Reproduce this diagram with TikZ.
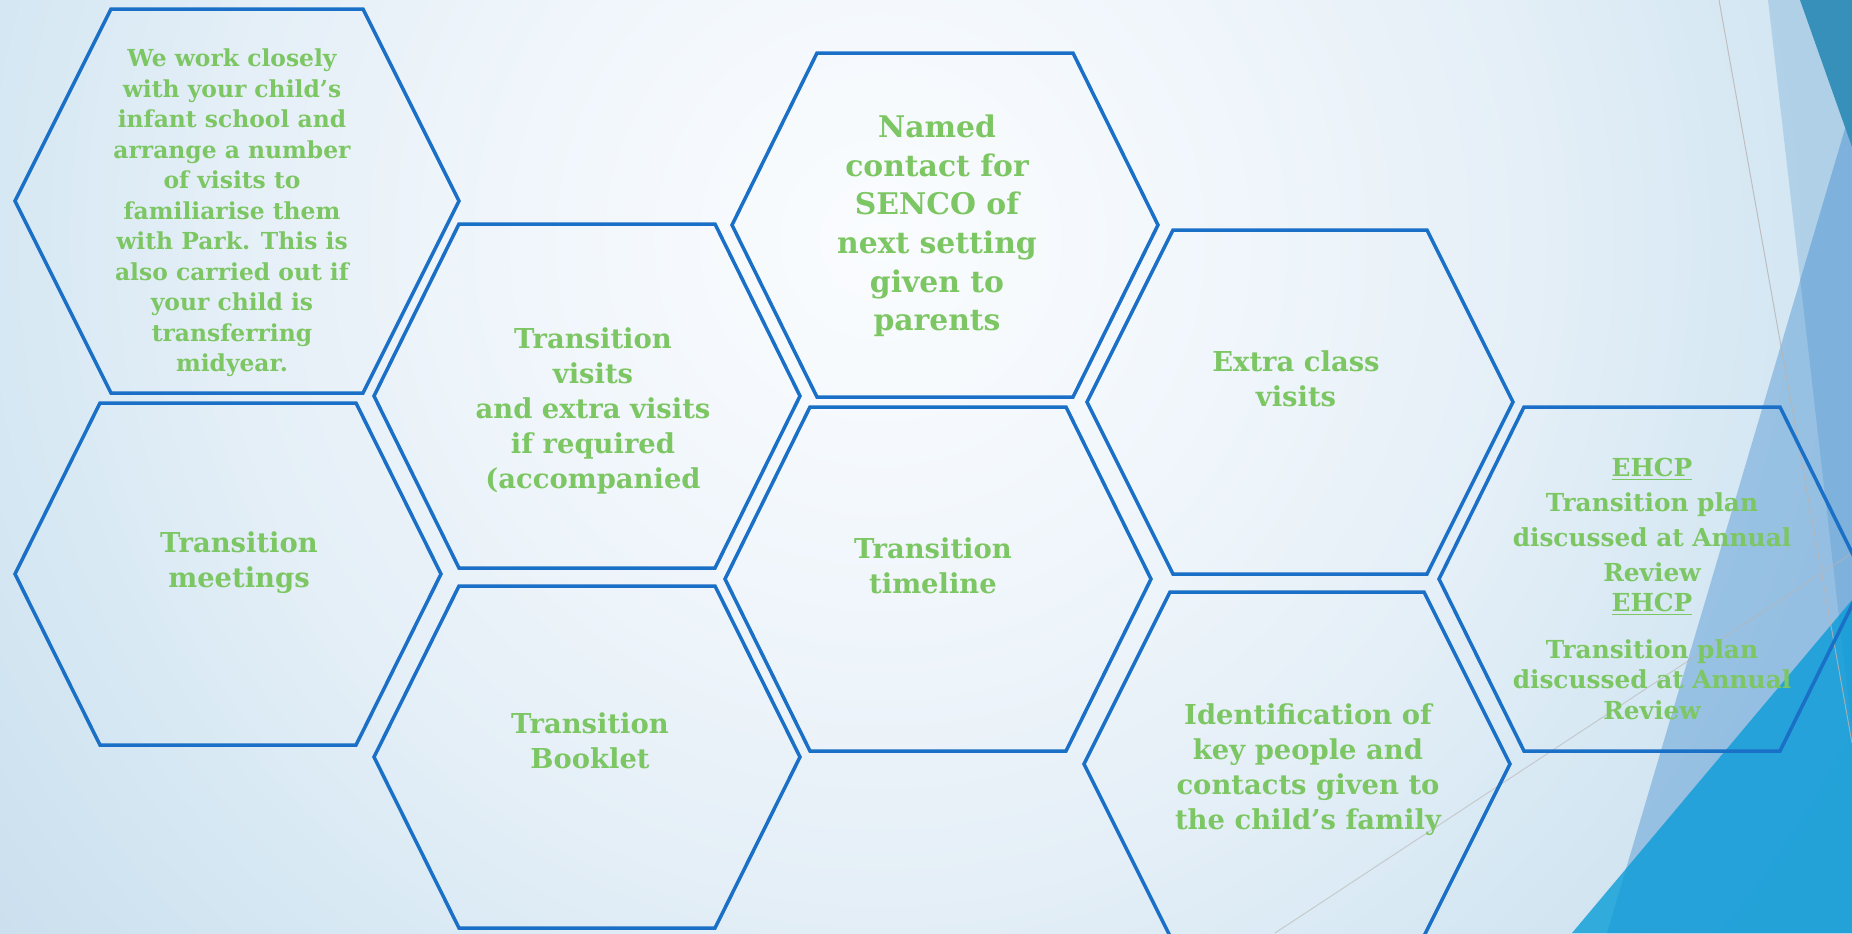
\documentclass[tikz,border=0pt]{standalone}
\usepackage{fontspec}
\setmainfont{DejaVu Serif}
\definecolor{hexblue}{HTML}{1A6FC6}
\definecolor{txtgreen}{HTML}{7CC663}
\definecolor{bgc0}{HTML}{FAFCFE}
\definecolor{bgc1}{HTML}{F5F9FD}
\definecolor{bgc2}{HTML}{EDF4FA}
\definecolor{bgc3}{HTML}{E5EFF7}
\definecolor{bgc4}{HTML}{D6E8F3}
\definecolor{bgc5}{HTML}{CBDFEE}
\definecolor{bandc}{HTML}{A2C8E5}
\definecolor{tonec}{HTML}{0D6CC2}
\definecolor{tealc}{HTML}{3690B9}
\definecolor{brightc}{HTML}{059BD7}
\definecolor{thinc}{HTML}{B8B4B4}
\pgfdeclareradialshading{bgshade}{\pgfpoint{0bp}{0bp}}{color(0bp)=(bgc0); color(3.6bp)=(bgc1); color(8bp)=(bgc2); color(11.6bp)=(bgc3); color(15.7bp)=(bgc4); color(20bp)=(bgc5); color(25bp)=(bgc5); color(50bp)=(bgc5)}
\newcommand\hexshape[5]{%
  \draw[hexline] (#1-#3,#2) -- (#1-#4,#2-#5) -- (#1+#4,#2-#5) -- (#1+#3,#2)
    -- (#1+#4,#2+#5) -- (#1-#4,#2+#5) -- cycle;}
\tikzset{
  hexline/.style={draw=hexblue, line width=1.75pt, line join=miter},
  hextext/.style={text=txtgreen, align=center, inner sep=0pt,
    font=\bfseries\fontsize{13.7pt}{17.5pt}\selectfont},
  smalltext/.style={hextext, font=\bfseries\fontsize{11.7pt}{15.25pt}\selectfont},
  bigtext/.style={hextext, font=\bfseries\fontsize{14.9pt}{19.35pt}\selectfont},
  ehcptext/.style={hextext, font=\bfseries\fontsize{12.4pt}{17.5pt}\selectfont},
  thinline/.style={draw=thinc, line width=0.5pt},
}
\begin{document}
\begin{tikzpicture}[x=0.5pt, y=-0.5pt]
\useasboundingbox (0,0) rectangle (1852,933);
\clip (0,0) rectangle (1852,933);
% background
\fill[bgc5] (0,0) rectangle (1852,933);
\shade[shading=bgshade] (880,240) circle[radius=700pt];
% decorations on the right
\fill[bandc, fill opacity=0.7] (1768,0) -- (1852,0) -- (1852,730) -- cycle;
\fill[tonec, fill opacity=0.3] (1607,933) -- (1852,105) -- (1852,933) -- cycle;
\fill[tealc] (1800,0) -- (1852,0) -- (1852,147) -- cycle;
\fill[brightc, fill opacity=0.78] (1572,933) -- (1852,600) -- (1852,933) -- cycle;
\coordinate (l1a) at (1719,0);
\coordinate (l1b) at (1852,743);
\coordinate (l2a) at (1275,933);
\coordinate (l2b) at (1852,553);
\draw[thinline, draw opacity=0.8] (l1a) -- (l1b);
\draw[thinline, draw opacity=0.6] (l2a) -- (l2b);
% hexagons
\hexshape{237}{201}{222}{126}{192}
\hexshape{587}{396}{213}{128}{172}
\hexshape{945}{225}{213}{128}{172}
\hexshape{1300}{402}{213}{127}{172}
\hexshape{228}{574}{213}{128}{171}
\hexshape{587}{757}{213}{128}{171}
\hexshape{938}{579}{213}{128}{172}
\hexshape{1297}{764}{213}{127}{172}
\hexshape{1652}{579}{213}{128}{172}
% texts
\node[smalltext] (ta) at (232,213) {We work closely\\with your child’s\\infant school and\\arrange a number\\of visits to\\familiarise them\\with Park. This is\\also carried out if\\your child is\\transferring\\midyear.};
\node[hextext] (tb) at (593,411) {Transition\\visits\\and extra visits\\if required\\(accompanied};
\node[bigtext] (tc) at (937,226) {Named\\contact for\\SENCO of\\next setting\\given to\\parents};
\node[hextext] (td) at (1296,379) {Extra class\\visits};
\node[hextext] (te) at (239,563) {Transition\\meetings};
\node[hextext] (tf) at (590,741) {Transition\\Booklet};
\node[hextext] (tg) at (933,566) {Transition\\timeline};
\node[hextext] (th) at (1308,770) {Identification of\\key people and\\contacts given to\\the child’s family};
\node[ehcptext] (ti) at (1652,589) {\underline{EHCP}\\Transition plan\\discussed at Annual\\Review\\[-2.5pt]\underline{EHCP}\\[6pt]Transition plan\\[-2.5pt]discussed at Annual\\[-2pt]Review};
\end{tikzpicture}
\end{document}
